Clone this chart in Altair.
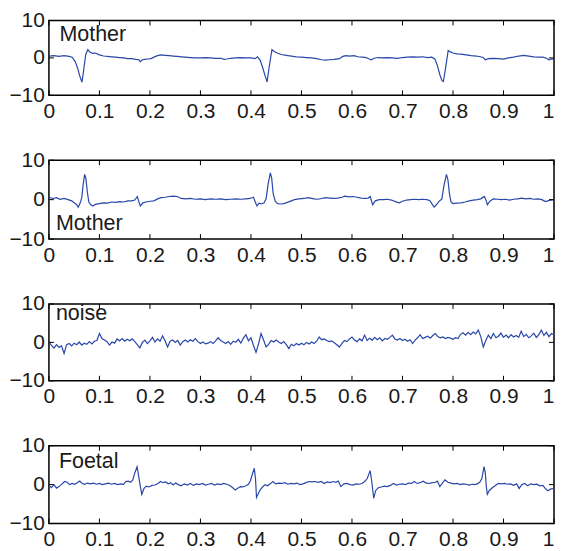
import altair as alt
import pandas as pd

BLUE = "#2947a9"
FONT = "Liberation Sans"
W = 506
HEIGHTS = [75, 79, 77, 78]

xticks = [0, 0.1, 0.2, 0.3, 0.4, 0.5, 0.6, 0.7, 0.8, 0.9, 1.0]
yticks = [-10, 0, 10]

# Panel 1: maternal (abdominal, inverted QRS)
t1 = [0.000, 0.010, 0.020, 0.030, 0.040, 0.046, 0.052, 0.057, 0.061, 0.0655, 0.069, 0.073, 0.077, 0.081,
      0.086, 0.092, 0.100, 0.108, 0.116, 0.124, 0.132, 0.140, 0.148, 0.156, 0.164, 0.172, 0.178, 0.181,
      0.185, 0.190, 0.196, 0.202, 0.208, 0.215, 0.222, 0.230, 0.238, 0.246, 0.254, 0.262, 0.270, 0.280,
      0.290, 0.300, 0.310, 0.320, 0.330, 0.340, 0.347, 0.352, 0.360, 0.370, 0.380, 0.390, 0.400, 0.408,
      0.413, 0.418, 0.423, 0.428, 0.432, 0.436, 0.4415, 0.446, 0.452, 0.460, 0.470, 0.480, 0.490, 0.500,
      0.510, 0.520, 0.530, 0.540, 0.547, 0.555, 0.565, 0.575, 0.582, 0.588, 0.596, 0.604, 0.612, 0.620,
      0.628, 0.634, 0.638, 0.644, 0.652, 0.660, 0.670, 0.680, 0.690, 0.700, 0.710, 0.720, 0.730, 0.740,
      0.750, 0.758, 0.764, 0.769, 0.774, 0.778, 0.781, 0.785, 0.7905, 0.795, 0.800, 0.808, 0.816, 0.826,
      0.836, 0.846, 0.854, 0.860, 0.864, 0.870, 0.880, 0.890, 0.900, 0.910, 0.920, 0.930, 0.940, 0.950,
      0.960, 0.970, 0.978, 0.985, 0.990, 0.995, 1.000]
v1 = [0.5, 0.6, 0.4, 0.6, 0.4, 0.2, -1.0, -2.8, -4.8, -6.5, -3.0, 1.0, 2.2, 1.6,
      1.2, 1.3, 0.8, 0.5, 0.4, 0.3, 0.2, 0.1, 0.0, -0.2, -0.2, -0.4, -0.5, -1.0,
      -0.5, -0.4, -0.3, -0.2, 0.2, 0.6, 0.8, 0.7, 0.6, 0.5, 0.4, 0.3, 0.2, 0.1,
      0.0, 0.0, 0.1, 0.0, -0.1, -0.1, -0.4, -0.3, -0.1, 0.0, 0.1, 0.0, 0.0, -0.2,
      0.3, -0.6, -2.5, -4.8, -6.4, -2.5, 2.2, 1.7, 1.3, 0.9, 0.7, 0.5, 0.3, 0.2,
      0.1, 0.0, -0.2, -0.5, -0.6, -0.5, -0.4, -0.2, 0.4, 0.6, 0.5, 0.6, 0.3, 0.2,
      0.1, -0.3, -0.5, -0.1, 0.1, 0.0, 0.1, 0.0, -0.1, 0.1, 0.2, 0.3, 0.2, 0.3,
      0.1, 0.2, -0.3, -2.0, -4.5, -6.0, -6.3, -3.0, 2.0, 1.6, 1.3, 1.1, 1.0, 0.8,
      0.6, 0.5, 0.3, 0.1, -0.5, -0.2, -0.1, -0.2, -0.3, 0.0, 0.2, 0.5, 0.7, 0.5,
      0.3, 0.2, 0.2, -0.1, -0.5, -0.3, -0.4]

# Panel 2: maternal (thoracic)
t2 = [0.000, 0.008, 0.015, 0.022, 0.030, 0.038, 0.045, 0.050, 0.055, 0.058, 0.062, 0.065, 0.068, 0.0707,
      0.073, 0.076, 0.079, 0.083, 0.087, 0.092, 0.100, 0.108, 0.116, 0.124, 0.132, 0.140, 0.148, 0.156,
      0.164, 0.170, 0.175, 0.178, 0.181, 0.186, 0.192, 0.200, 0.208, 0.215, 0.222, 0.230, 0.238, 0.246,
      0.254, 0.262, 0.270, 0.280, 0.290, 0.300, 0.310, 0.320, 0.330, 0.340, 0.350, 0.360, 0.370, 0.380,
      0.390, 0.398, 0.405, 0.409, 0.412, 0.416, 0.421, 0.426, 0.430, 0.434, 0.4384, 0.441, 0.444, 0.448,
      0.453, 0.458, 0.465, 0.472, 0.480, 0.486, 0.495, 0.505, 0.512, 0.518, 0.525, 0.532, 0.540, 0.548,
      0.556, 0.564, 0.572, 0.580, 0.586, 0.594, 0.602, 0.610, 0.618, 0.626, 0.632, 0.636, 0.641, 0.646,
      0.654, 0.662, 0.670, 0.678, 0.686, 0.694, 0.700, 0.708, 0.716, 0.724, 0.732, 0.740, 0.748, 0.754,
      0.758, 0.7626, 0.767, 0.772, 0.778, 0.782, 0.787, 0.790, 0.793, 0.796, 0.800, 0.808, 0.816, 0.824,
      0.832, 0.840, 0.848, 0.855, 0.862, 0.866, 0.868, 0.873, 0.880, 0.888, 0.896, 0.904, 0.912, 0.920,
      0.928, 0.936, 0.944, 0.952, 0.960, 0.968, 0.976, 0.983, 0.988, 0.994, 1.000]
v2 = [0.6, 0.3, 0.5, 0.1, 0.3, 0.0, -0.3, -0.8, -1.3, -1.9, -0.8, 0.5, 4.0, 6.4,
      5.5, 2.0, -0.6, -1.3, -1.6, -1.2, -1.0, -0.8, -0.9, -0.6, -0.7, -0.5, -0.6, -0.3,
      -0.3, -0.1, 0.8, -0.5, -1.6, -0.8, -0.6, -0.4, -0.3, 0.2, 0.5, 0.6, 0.8, 0.9,
      0.8, 0.3, 0.2, 0.3, 0.1, 0.2, 0.0, 0.2, 0.1, 0.2, 0.0, 0.1, 0.2, 0.1,
      0.2, 0.3, 0.6, -0.8, -1.6, -0.9, -1.1, -0.8, 0.2, 4.0, 6.8, 5.5, 1.5, -0.4,
      -1.0, -1.1, -1.0, -0.7, -0.3, 0.0, 0.2, 0.3, 0.5, 0.4, 0.2, 0.1, 0.3, 0.5,
      0.4, 0.3, 0.4, 0.6, 0.9, 0.7, 0.8, 0.6, 0.4, 0.3, 0.4, 0.8, -1.3, -0.3,
      0.0, 0.0, 0.1, -0.1, -0.5, -0.8, -0.4, -0.1, 0.0, 0.1, 0.0, 0.1, 0.0, -0.2,
      -1.0, -1.9, -1.3, -0.5, 0.2, 3.5, 6.4, 5.0, 1.5, -0.6, -1.0, -0.9, -0.8, -0.6,
      -0.3, -0.1, 0.0, 0.2, 0.8, -0.3, -1.3, -0.4, 0.2, 0.1, 0.0, 0.1, -0.1, 0.1,
      0.2, 0.4, 0.2, 0.3, 0.1, 0.2, 0.0, -0.5, -0.3, -0.1, 0.0]

# Panel 3: noise (sampled every 0.005)
t3 = [i / 200 for i in range(201)]
v3 = [0.2, -0.8, -1.5, -0.6, -1.3, -0.9, -2.9, -0.6, -0.3, -0.9,
      -0.2, -0.6, 0.1, -0.7, -0.2, -0.5, 0.2, -0.4, 0.3, 0.5,
      2.3, 1.0, 0.6, 0.2, -0.7, 0.1, -0.2, 0.9, 0.4, 1.0,
      0.3, 0.8, 0.4, 0.9, 0.2, -0.6, -1.4, 0.0, 0.6, -0.3,
      0.4, 1.3, 0.1, 0.9, 0.3, 1.7, 0.4, -1.2, 0.3, 0.6,
      0.0, 0.5, -0.7, 0.2, 0.6, 0.1, 0.7, 0.3, 1.0, 0.2,
      -0.3, 0.1, -0.4, -0.2, 0.2, -0.3, 0.4, 1.2, 0.5, 0.1,
      -0.3, 0.2, -0.5, 0.3, 0.0, 0.8, -0.2, 1.1, 2.0, 0.4,
      1.2, -0.8, -2.6, -0.4, 2.3, 0.6, -1.2, -0.5, 0.5, 0.1,
      0.6, 0.1, -0.3, 0.2, -0.6, -1.6, -0.5, -0.9, -0.3, -0.7,
      -0.2, -0.6, 0.0, -0.4, 0.1, -0.3, 0.3, 1.4, 0.7, 0.9,
      0.5, 0.2, 0.4, -0.1, -0.6, -1.2, -0.3, 0.5, 0.2, 0.9,
      1.4, 0.6, 0.2, 0.9, 0.4, 1.9, 0.5, 1.1, 0.6, 1.3,
      0.7, 1.2, 0.4, 1.0, 0.8, 1.3, 1.9, 0.9, 0.6, 1.0,
      0.5, 0.8, 0.3, 0.7, -0.3, 0.6, 1.2, 2.0, 1.0, 1.3,
      1.6, 1.1, 1.8, 2.3, 1.5, 1.2, 1.4, 1.0, 1.3, 1.1,
      0.8, 1.2, 1.0, 2.1, 2.5, 1.9, 2.6, 2.0, 2.7, 2.2,
      3.2, 1.5, -1.2, 0.5, 1.9, 1.0, 2.3, 1.2, 1.6, 2.4,
      1.3, 1.9, 1.2, 2.0, 1.4, 1.8, 1.3, 2.9, 1.5, 2.1,
      1.2, 1.7, 2.4, 1.3, 2.0, 3.2, 1.8, 2.6, 1.5, 2.3,
      1.9]

# Panel 4: foetal
t4 = [0.000, 0.005, 0.010, 0.015, 0.020, 0.026, 0.031, 0.036, 0.041, 0.046, 0.051, 0.056, 0.061, 0.066,
      0.071, 0.076, 0.082, 0.088, 0.094, 0.100, 0.106, 0.112, 0.118, 0.124, 0.130, 0.136, 0.142, 0.148,
      0.152, 0.157, 0.162, 0.166, 0.170, 0.1745, 0.178, 0.181, 0.184, 0.188, 0.193, 0.198, 0.204, 0.210,
      0.216, 0.221, 0.226, 0.231, 0.236, 0.241, 0.246, 0.251, 0.256, 0.262, 0.268, 0.274, 0.280, 0.286,
      0.292, 0.298, 0.304, 0.310, 0.316, 0.322, 0.328, 0.334, 0.340, 0.346, 0.352, 0.358, 0.364, 0.369,
      0.374, 0.379, 0.384, 0.390, 0.395, 0.399, 0.403, 0.4066, 0.409, 0.411, 0.414, 0.418, 0.423, 0.428,
      0.433, 0.438, 0.4436, 0.449, 0.455, 0.461, 0.467, 0.473, 0.479, 0.485, 0.491, 0.497, 0.503, 0.509,
      0.515, 0.521, 0.527, 0.533, 0.539, 0.545, 0.551, 0.557, 0.563, 0.568, 0.573, 0.578, 0.584, 0.590,
      0.596, 0.602, 0.608, 0.614, 0.620, 0.625, 0.630, 0.636, 0.639, 0.643, 0.647, 0.652, 0.658, 0.664,
      0.670, 0.676, 0.682, 0.688, 0.694, 0.700, 0.706, 0.712, 0.718, 0.723, 0.729, 0.735, 0.741, 0.747,
      0.753, 0.759, 0.765, 0.769, 0.774, 0.779, 0.784, 0.790, 0.796, 0.802, 0.808, 0.814, 0.820, 0.826,
      0.832, 0.838, 0.843, 0.848, 0.853, 0.857, 0.8615, 0.864, 0.866, 0.868, 0.872, 0.878, 0.884, 0.890,
      0.896, 0.902, 0.908, 0.914, 0.920, 0.926, 0.931, 0.936, 0.942, 0.948, 0.954, 0.960, 0.966, 0.972,
      0.978, 0.983, 0.988, 0.994, 1.000]
v4 = [-0.2, -0.8, 0.0, -0.9, -0.5, 0.2, 0.8, 0.6, 0.0, 0.3, 0.1, 0.5, 0.9, 0.3,
      0.1, 0.4, 0.2, 0.4, 0.1, 0.3, 0.0, 0.2, 0.4, 0.1, 0.3, 0.0, 0.2, 0.1,
      0.8, 0.9, 0.6, 1.2, 3.0, 4.6, 2.0, -0.5, -2.5, -1.0, -0.4, -0.6, -0.2, -0.1,
      0.3, 0.8, 0.5, 0.7, 0.2, 0.5, -0.1, 0.4, 0.0, -0.3, 0.2, -0.1, 0.3, -0.2,
      0.2, 0.0, 0.3, -0.1, 0.1, 0.3, -0.1, 0.2, 0.0, 0.3, 0.1, -0.2, -0.8, -1.4,
      -0.9, -0.5, -0.6, -0.3, 0.1, 1.0, 2.8, 4.2, 1.5, -3.3, -2.5, -1.4, -0.6, 0.0,
      -0.3, 0.2, 0.8, 0.2, 0.4, 0.3, 0.5, 0.1, 0.3, 0.2, 0.4, 0.0, 0.2, 0.5,
      0.8, 0.7, 0.8, 0.6, 0.8, 0.3, 0.7, 0.5, 0.8, 0.6, 0.9, -0.5, 0.2, 0.3,
      0.0, -0.1, 0.2, 0.1, 0.3, 0.8, 1.5, 3.6, 1.0, -3.5, -1.5, -0.8, -0.6, -0.4,
      -0.5, -0.2, 0.3, -0.1, 0.1, 0.2, 0.0, 0.4, 0.3, 0.8, 0.3, 0.5, 0.9, 0.4,
      0.3, 0.5, 0.6, 0.9, -0.5, 0.4, 1.2, 0.6, 0.4, 0.2, 0.3, 0.0, 0.2, 0.1,
      -0.1, 0.1, 0.0, 0.2, 0.6, 1.5, 4.6, 3.0, -0.5, -2.5, -1.5, -0.8, -0.2, 0.3,
      0.2, 0.3, 0.1, 0.2, -0.2, 0.2, -1.0, 0.0, 0.3, -0.3, 0.2, 0.0, 0.1, -0.3,
      -0.2, -1.0, -1.6, -1.1, -1.0]

labels = ["Mother", "Mother", "noise", "Foetal"]

xscale = alt.Scale(domain=[0, 1], nice=False, zero=False)
yscale = alt.Scale(domain=[-10, 10], nice=False, zero=False)

xaxis = alt.Axis(values=xticks, format="~g", title=None, labelFlush=False, labelPadding=5,
                 labelOverlap=False,
                 labelAlign={"condition": {"test": "datum.value >= 1", "value": "right"}, "value": "center"})
yaxis = alt.Axis(values=yticks, format="d", title=None, labelPadding=4.5, labelOverlap=False,
                 labelFlush=False, labelBound=False)

xt_df = pd.DataFrame({"t": xticks})
yt_df = pd.DataFrame({"v": yticks})


def panel(t, v, label, lx, ly, h):
    df = pd.DataFrame({"t": t, "v": v})
    X = alt.X("t:Q", scale=xscale, axis=xaxis)
    Y = alt.Y("v:Q", scale=yscale, axis=yaxis)
    line = alt.Chart(df).mark_line(color=BLUE, strokeWidth=1.2, clip=True).encode(x=X, y=Y)
    tick_style = dict(color="black", strokeWidth=1)
    xt_top = alt.Chart(xt_df).mark_rule(**tick_style).encode(
        x=X, y=alt.value(0), y2=alt.value(5))
    xt_bot = alt.Chart(xt_df).mark_rule(**tick_style).encode(
        x=X, y=alt.value(h - 5), y2=alt.value(h))
    yt_left = alt.Chart(yt_df).mark_rule(**tick_style).encode(
        y=Y, x=alt.value(0), x2=alt.value(5))
    yt_right = alt.Chart(yt_df).mark_rule(**tick_style).encode(
        y=Y, x=alt.value(W - 5), x2=alt.value(W))
    txt = alt.Chart(df.head(1)).mark_text(align="left", baseline="alphabetic", font=FONT,
                                          fontSize=21.5, color="#1a1a1a").encode(
        x=alt.value(lx), y=alt.value(ly), text=alt.value(label))
    return alt.layer(line, xt_top, xt_bot, yt_left, yt_right, txt).properties(width=W, height=h)


chart = alt.vconcat(
    panel(t1, v1, labels[0], 10.5, 21, HEIGHTS[0]),
    panel(t2, v2, labels[1], 7, 70, HEIGHTS[1]),
    panel(t3, v3, labels[2], 7, 16, HEIGHTS[2]),
    panel(t4, v4, labels[3], 10, 22, HEIGHTS[3]),
    spacing=65,
).properties(
    bounds="flush",
    padding={"left": 0, "top": 0, "right": 0, "bottom": 0},
).configure_axis(
    labelFont=FONT, labelFontSize=21, labelColor="#1a1a1a",
    grid=False, ticks=False, domain=False, labelOverlap=False,
).configure_view(
    stroke="black", strokeWidth=1.5,
)

chart.save("out.html", embed_options={"renderer": "svg", "actions": False})
